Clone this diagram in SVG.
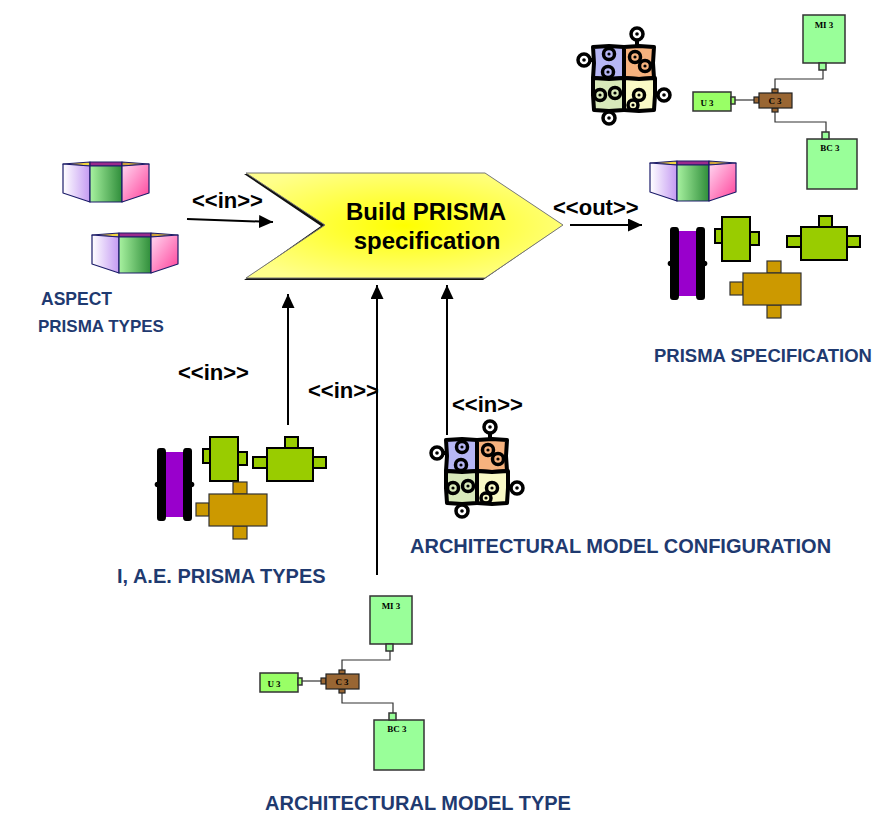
<svg xmlns="http://www.w3.org/2000/svg" width="877" height="814" viewBox="0 0 877 814">
  <style>
    .lbl { font-family: "Liberation Sans", Arial, sans-serif; font-weight: bold; font-size: 20px; fill: #1f3a70; }
    .stereo { font-family: "Liberation Sans", Arial, sans-serif; font-weight: bold; font-size: 22px; fill: #000; }
    .title { font-family: "Liberation Sans", Arial, sans-serif; font-weight: bold; font-size: 24px; fill: #000; text-anchor: middle; }
    .flow { stroke: #000; stroke-width: 2; fill: none; marker-end: url(#arrow); }
    .face { stroke: #1c1c6a; stroke-width: 1.2; stroke-linejoin: round; }
    .grn { fill: #99cc00; stroke: #000; stroke-width: 2; }
    .ora { fill: #cc9900; stroke: #333; stroke-width: 1.2; }
    .box { fill: #99ff99; stroke: #333; stroke-width: 1.5; }
    .ubox { fill: #99ff66; stroke: #333; stroke-width: 1.5; }
    .cbox { fill: #996633; stroke: #222; stroke-width: 1.2; }
    .wire { stroke: #333; stroke-width: 1.2; fill: none; }
    .mini { font-family: "Liberation Serif", "Times New Roman", serif; font-weight: bold; font-size: 9px; fill: #000; text-anchor: middle; }
    .piece { stroke: #000; stroke-width: 4; stroke-linejoin: round; }
    .ring { stroke: #000; stroke-width: 3.5; }
  </style>
  <defs>
    <marker id="arrow" markerUnits="userSpaceOnUse" markerWidth="15" markerHeight="13" refX="14" refY="6.5" orient="auto">
      <path d="M0,0 L14,6.5 L0,13 Z" fill="#000"/>
    </marker>
    <linearGradient id="gLeft" x1="0" y1="0" x2="1" y2="0">
      <stop offset="0" stop-color="#ffffff"/>
      <stop offset="1" stop-color="#c49af2"/>
    </linearGradient>
    <linearGradient id="gFront" x1="0" y1="0" x2="1" y2="0">
      <stop offset="0" stop-color="#a8f2a0"/>
      <stop offset="1" stop-color="#2f8d3a"/>
    </linearGradient>
    <linearGradient id="gRight" x1="0" y1="0" x2="1" y2="1">
      <stop offset="0" stop-color="#ffd8f2"/>
      <stop offset="1" stop-color="#ff3f98"/>
    </linearGradient>
    <linearGradient id="gTop" x1="0" y1="0" x2="1" y2="0">
      <stop offset="0" stop-color="#c99a3a"/>
      <stop offset="1" stop-color="#f4dc40"/>
    </linearGradient>
    <radialGradient id="gChevron" cx="0.5" cy="0.5" r="0.6">
      <stop offset="0" stop-color="#ffff00"/>
      <stop offset="1" stop-color="#ffff8c"/>
    </radialGradient>

    <!-- aspect prism, local origin at its top-left corner -->
    <g id="prism">
      <polygon class="face" points="0,2 27,0 27,4" fill="url(#gTop)"/>
      <rect class="face" x="27" y="0" width="32" height="4" fill="#9a2a8c"/>
      <polygon class="face" points="59,0 86,2 59,4" fill="url(#gTop)"/>
      <polygon class="face" points="0,2 27,4 27,40 0,31" fill="url(#gLeft)"/>
      <rect class="face" x="27" y="4" width="32" height="36" fill="url(#gFront)"/>
      <polygon class="face" points="59,4 86,2 86,31 59,40" fill="url(#gRight)"/>
    </g>

    <!-- connector type: purple body between two black brackets -->
    <g id="connType">
      <rect x="165" y="452" width="19" height="65" fill="#9900cc"/>
      <path d="M157,451 Q157,448 160,448 L163,448 Q166,448 166,452 L166,517 Q166,521 163,521 L160,521 Q157,521 157,518 Z" fill="#000"/>
      <circle cx="157.5" cy="484.5" r="2.8" fill="#000"/>
      <path d="M183,452 Q183,448 186,448 L189,448 Q192,448 192,451 L192,518 Q192,521 189,521 L186,521 Q183,521 183,517 Z" fill="#000"/>
      <circle cx="191.5" cy="484.5" r="2.8" fill="#000"/>
    </g>
    <g id="compA">
      <rect class="grn" x="203" y="449" width="7" height="14"/>
      <rect class="grn" x="238" y="452" width="9" height="13"/>
      <rect class="grn" x="210" y="437" width="28" height="44"/>
    </g>
    <g id="compB">
      <rect class="grn" x="285" y="437" width="13" height="11"/>
      <rect class="grn" x="253" y="457" width="14" height="11"/>
      <rect class="grn" x="313" y="457" width="13" height="11"/>
      <rect class="grn" x="267" y="448" width="46" height="33"/>
    </g>
    <g id="compC">
      <rect class="ora" x="233" y="482" width="14" height="12"/>
      <rect class="ora" x="196" y="503" width="13" height="13"/>
      <rect class="ora" x="233" y="526" width="14" height="13"/>
      <rect class="ora" x="209" y="494" width="58" height="32"/>
    </g>

    <!-- configuration puzzle -->
    <g id="puzzle">
      <line x1="490" y1="432" x2="490" y2="440" stroke="#000" stroke-width="4"/>
      <line x1="442" y1="453" x2="447" y2="453" stroke="#000" stroke-width="4"/>
      <line x1="507" y1="488" x2="512" y2="488" stroke="#000" stroke-width="4"/>
      <line x1="462" y1="503" x2="462" y2="506" stroke="#000" stroke-width="4"/>
      <path class="piece" fill="#b6b6f4" d="M446,440 L462,439 L477,440 L477,456 L477,471 L462,472 L446,471 L447,456 Z"/>
      <path class="piece" fill="#f6b27e" d="M477,440 L492,439 L507,440 L506,456 L507,471 L492,472 L477,471 Z"/>
      <path class="piece" fill="#d8e9ba" d="M446,471 L462,472 L477,471 L477,488 L477,503 L462,504 L447,503 L446,488 Z"/>
      <path class="piece" fill="#fafac6" d="M477,471 L492,472 L508,471 L508,488 L507,503 L492,504 L477,503 Z"/>
      <g class="ring" fill="#fff">
        <circle cx="490" cy="427" r="6"/>
        <circle cx="437" cy="453" r="6"/>
        <circle cx="517" cy="488" r="6"/>
        <circle cx="462" cy="511" r="6"/>
      </g>
      <g class="ring" fill="none">
        <circle cx="462" cy="447" r="5.5"/>
        <circle cx="461" cy="465" r="5.5"/>
        <circle cx="488" cy="450" r="5.5"/>
        <circle cx="498" cy="459" r="5.5"/>
        <circle cx="453" cy="488" r="5.5"/>
        <circle cx="468" cy="486" r="5.5"/>
        <circle cx="492" cy="488" r="5.5"/>
        <circle cx="486" cy="498" r="5"/>
      </g>
      <g fill="#000">
        <circle cx="490" cy="427" r="1.8"/>
        <circle cx="437" cy="453" r="1.8"/>
        <circle cx="517" cy="488" r="1.8"/>
        <circle cx="462" cy="511" r="1.8"/>
        <circle cx="462" cy="447" r="1.6"/>
        <circle cx="461" cy="465" r="1.6"/>
        <circle cx="488" cy="450" r="1.6"/>
        <circle cx="498" cy="459" r="1.6"/>
        <circle cx="453" cy="488" r="1.6"/>
        <circle cx="468" cy="486" r="1.6"/>
        <circle cx="492" cy="488" r="1.6"/>
        <circle cx="486" cy="498" r="1.6"/>
      </g>
    </g>

    <!-- architectural model: MI 3, U 3, C 3, BC 3 -->
    <g id="archModel">
      <polyline class="wire" points="390,651 390,660 342,660 342,670"/>
      <polyline class="wire" points="342,693 342,703 393,703 393,713"/>
      <line class="wire" x1="302" y1="681" x2="321" y2="681"/>
      <rect class="box" x="370" y="596" width="42" height="48"/>
      <rect class="box" x="386" y="644" width="7" height="7"/>
      <text class="mini" x="391" y="609">MI 3</text>
      <rect class="box" x="374" y="720" width="50" height="50"/>
      <rect class="box" x="389" y="713" width="7" height="7"/>
      <text class="mini" x="397" y="732">BC 3</text>
      <rect class="ubox" x="260" y="673" width="38" height="19"/>
      <rect class="ubox" x="298" y="678" width="4" height="7"/>
      <text class="mini" x="274" y="687">U 3</text>
      <rect class="cbox" x="339" y="670" width="6" height="4"/>
      <rect class="cbox" x="339" y="689" width="6" height="4"/>
      <rect class="cbox" x="321" y="678" width="5" height="6"/>
      <rect class="cbox" x="326" y="674" width="33" height="15"/>
      <text class="mini" x="342" y="685">C 3</text>
    </g>
  </defs>

  <!-- process: Build PRISMA specification -->
  <g id="build-prisma-spec">
    <polygon points="244,174 321,226 244,280 483,280 561,226 483,174" fill="#111"/>
    <polygon points="246,173 325,225 246,278 485,278 563,225 485,173" fill="url(#gChevron)" stroke="#777" stroke-width="1"/>
    <text class="title" x="426" y="220">Build PRISMA</text>
    <text class="title" x="427" y="249">specification</text>
  </g>

  <!-- input: aspect types -->
  <g id="aspect-prisma-types">
    <use href="#prism" transform="translate(63,162)"/>
    <use href="#prism" transform="translate(92,233)"/>
    <text class="lbl" x="41" y="305" style="font-size:17.5px">ASPECT</text>
    <text class="lbl" x="38" y="332" style="font-size:17px">PRISMA TYPES</text>
  </g>

  <!-- input: interface, architectural element types -->
  <g id="iae-prisma-types">
    <use href="#connType"/>
    <use href="#compA"/>
    <use href="#compB"/>
    <use href="#compC"/>
    <text class="lbl" x="117" y="583">I, A.E. PRISMA TYPES</text>
  </g>

  <!-- input: architectural model type -->
  <g id="architectural-model-type">
    <use href="#archModel"/>
    <text class="lbl" x="265" y="810">ARCHITECTURAL MODEL TYPE</text>
  </g>

  <!-- input: architectural model configuration -->
  <g id="architectural-model-configuration">
    <use href="#puzzle"/>
    <text class="lbl" x="410" y="553">ARCHITECTURAL MODEL CONFIGURATION</text>
  </g>

  <!-- output: PRISMA specification -->
  <g id="prisma-specification">
    <use href="#prism" transform="translate(650,161)"/>
    <use href="#connType" transform="translate(513,-221)"/>
    <use href="#compA" transform="translate(512,-220)"/>
    <use href="#compB" transform="translate(534,-221)"/>
    <use href="#compC" transform="translate(534,-221)"/>
    <use href="#puzzle" transform="translate(147,-393)"/>
    <use href="#archModel" transform="translate(433,-581)"/>
    <text class="lbl" x="654" y="362" style="font-size:18.5px">PRISMA SPECIFICATION</text>
  </g>

  <!-- flows -->
  <g id="connectors">
    <line class="flow" x1="187" y1="219" x2="273" y2="222"/>
    <text class="stereo" x="192" y="208">&lt;&lt;in&gt;&gt;</text>
    <line class="flow" x1="288" y1="425" x2="288" y2="294"/>
    <text class="stereo" x="178" y="380">&lt;&lt;in&gt;&gt;</text>
    <line class="flow" x1="377" y1="575" x2="377" y2="285"/>
    <text class="stereo" x="308" y="398">&lt;&lt;in&gt;&gt;</text>
    <line class="flow" x1="447" y1="435" x2="447" y2="285"/>
    <text class="stereo" x="452" y="412">&lt;&lt;in&gt;&gt;</text>
    <line class="flow" x1="570" y1="225" x2="642" y2="225"/>
    <text class="stereo" x="553" y="215">&lt;&lt;out&gt;&gt;</text>
  </g>
</svg>
